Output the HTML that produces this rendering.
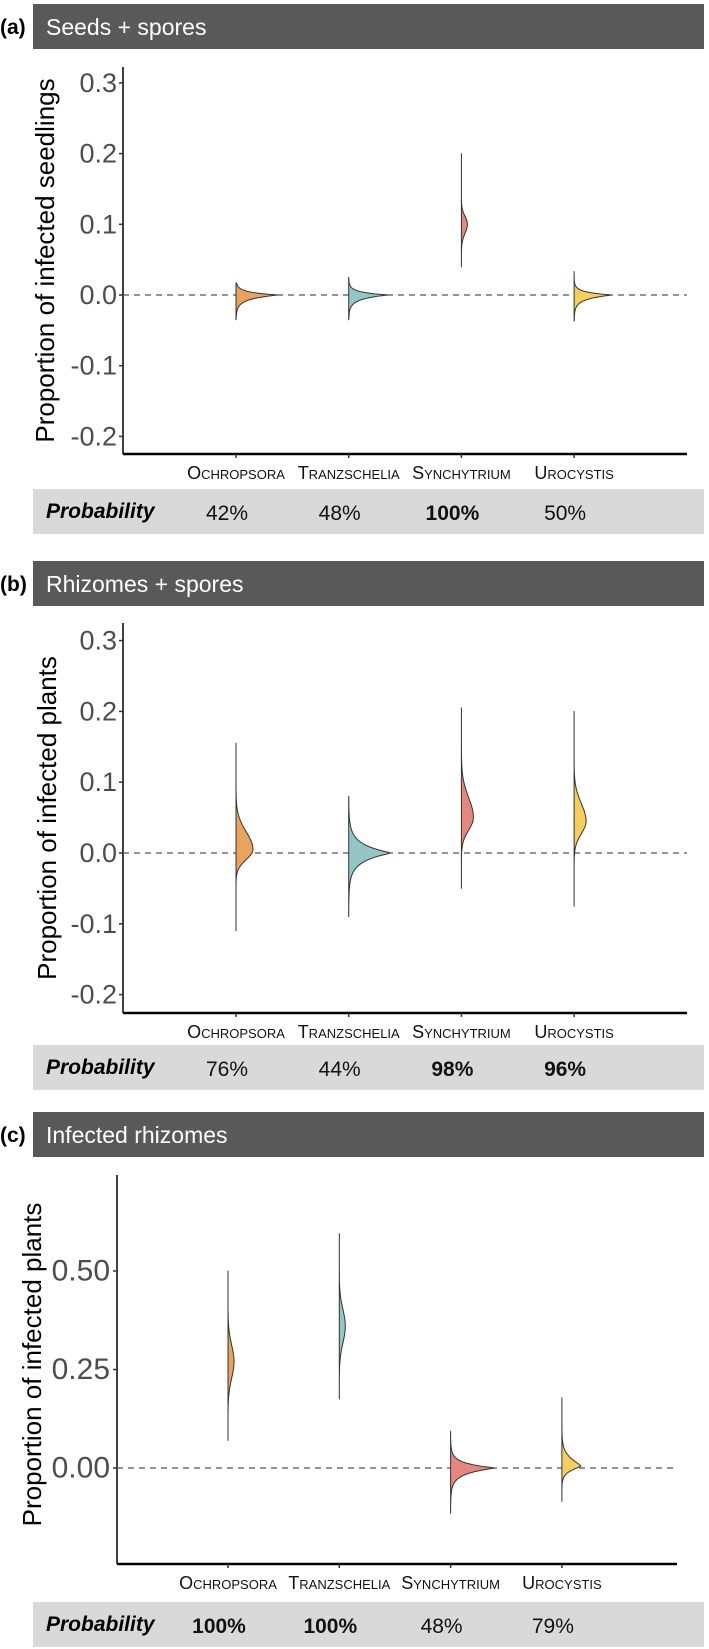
<!DOCTYPE html>
<html><head><meta charset="utf-8">
<style>
html,body{margin:0;padding:0;background:#fff;}
svg{display:block;}
text{font-family:"Liberation Sans",Arial,sans-serif;}
</style></head>
<body>
<svg id="chart" width="709" height="1649" viewBox="0 0 709 1649" xmlns="http://www.w3.org/2000/svg"></svg>
<script>
// ---- data ----
const categories = ["Ochropsora","Tranzschelia","Synchytrium","Urocystis"];
const panelTitles = ["Seeds + spores","Rhizomes + spores","Infected rhizomes"];
const panelLetters = ["(a)","(b)","(c)"];
const yTitles = ["Proportion of infected seedlings","Proportion of infected plants","Proportion of infected plants"];
const tickValsA = [0.3,0.2,0.1,0.0,-0.1,-0.2];
const tickLabelsA = ["0.3","0.2","0.1","0.0","-0.1","-0.2"];
const tickValsB = [0.3,0.2,0.1,0.0,-0.1,-0.2];
const tickLabelsB = ["0.3","0.2","0.1","0.0","-0.1","-0.2"];
const tickValsC = [0.5,0.25,0.0];
const tickLabelsC = ["0.50","0.25","0.00"];
const probA = ["42%","48%","100%","50%"];
const probB = ["76%","44%","98%","96%"];
const probC = ["100%","100%","48%","79%"];
const boldA = [false,false,true,false];
const boldB = [false,false,true,true];
const boldC = [true,true,false,false];
// violin summaries: min, max, mode, spread below, spread above, peak density, shape exponent
const loA = [-0.035,-0.035,0.04,-0.037];
const hiA = [0.017,0.025,0.2,0.033];
const modeA = [0.0,0.0,0.1,0.0];
const sdDownA = [0.006,0.006,0.018,0.006];
const sdUpA = [0.004,0.004,0.016,0.004];
const peakA = [42,39,6,38];
const shapeA = [1,1,2,1];
const loB = [-0.11,-0.09,-0.05,-0.075];
const hiB = [0.155,0.08,0.205,0.2];
const modeB = [0.005,0.0,0.05,0.045];
const sdDownB = [0.02,0.012,0.025,0.025];
const sdUpB = [0.035,0.012,0.04,0.035];
const peakB = [17,43,12,12];
const shapeB = [2,1,2,2];
const loC = [0.07,0.175,-0.115,-0.085];
const hiC = [0.5,0.595,0.093,0.178];
const modeC = [0.27,0.36,0.0,0.005];
const sdDownC = [0.06,0.06,0.015,0.015];
const sdUpC = [0.06,0.06,0.012,0.025];
const peakC = [6,6,45,19];
const shapeC = [2,2,1,1.3];
const colors = ["#E9A35E","#93C6C4","#E3877F","#F6CD5F"];

// ---- layout ----
const NS="http://www.w3.org/2000/svg";
const svg=document.getElementById('chart');
function mk(tag,attrs,parent){const e=document.createElementNS(NS,tag);for(const k in attrs)e.setAttribute(k,attrs[k]);(parent||svg).appendChild(e);return e;}

const panels=[
 {hy:4,by:489,axTop:67,axBot:454,axX:123,axEnd:687,y0v:0.0,y0:295,pxPer:707,cx0:236,dx:112.7,tickFs:27,titleX:45,tickX:117,
  tv:tickValsA,tl:tickLabelsA,prob:probA,bold:boldA,lo:loA,hi:hiA,mode:modeA,sdD:sdDownA,sdU:sdUpA,peak:peakA,shape:shapeA},
 {hy:561,by:1045,axTop:623,axBot:1013,axX:123,axEnd:687,y0v:0.0,y0:853,pxPer:708,cx0:236,dx:112.7,tickFs:27,titleX:47,tickX:117,
  tv:tickValsB,tl:tickLabelsB,prob:probB,bold:boldB,lo:loB,hi:hiB,mode:modeB,sdD:sdDownB,sdU:sdUpB,peak:peakB,shape:shapeB},
 {hy:1112,by:1602,axTop:1175,axBot:1564,axX:117,axEnd:677,y0v:0.0,y0:1468,pxPer:394,cx0:228,dx:111.3,tickFs:30,titleX:32,tickX:110,
  tv:tickValsC,tl:tickLabelsC,prob:probC,bold:boldC,lo:loC,hi:hiC,mode:modeC,sdD:sdDownC,sdU:sdUpC,peak:peakC,shape:shapeC}
];

panels.forEach((p,pi)=>{
  const g=mk('g',{});
  
  
  const yS=v=>p.y0-(v-p.y0v)*p.pxPer;
  const xS=i=>p.cx0+i*p.dx;
  const hb=mk('rect',{x:33,y:p.hy,width:671,height:45,fill:'#595959'},g);
  
  
  const lt=mk('text',{x:0,y:p.hy+30,'font-size':21,'font-weight':'bold',fill:'#000'},g);
  lt.textContent=panelLetters[pi];
  
  
  const ht=mk('text',{x:46,y:p.hy+31,'font-size':23,fill:'#fff'},g);
  ht.textContent=panelTitles[pi];
  
  
  const cy=(p.axTop+p.axBot)/2+ (pi==2?-5:0);
  const yt=mk('text',{x:p.titleX,y:cy,'font-size':26,fill:'#000','text-anchor':'middle','dominant-baseline':'central',transform:`rotate(-90 ${p.titleX} ${cy})`},g);
  yt.textContent=yTitles[pi];
  
  
  const ya=mk('line',{x1:p.axX,y1:p.axTop,x2:p.axX,y2:p.axBot,stroke:'#000','stroke-width':1.5},g);
  
  
  const xa=mk('line',{x1:p.axX,y1:p.axBot,x2:p.axEnd,y2:p.axBot,stroke:'#000','stroke-width':2.5},g);
  
  
  p.tv.forEach((v,i)=>{
    const y=yS(v);
    mk('line',{x1:p.axX-4,y1:y,x2:p.axX,y2:y,stroke:'#333','stroke-width':1.5},g);
    const t=mk('text',{x:p.tickX,y:y,'font-size':p.tickFs,fill:'#4d4d4d','text-anchor':'end','dominant-baseline':'central'},g);
    t.textContent=p.tl[i];
    
    
  });
  const zl=mk('line',{x1:p.axX,y1:yS(0),x2:p.axEnd,y2:yS(0),stroke:'#555','stroke-width':1.2,'stroke-dasharray':'6,5'},g);
  
  
  categories.forEach((c,i)=>{
    const x=xS(i);
    mk('line',{x1:x,y1:p.axBot,x2:x,y2:p.axBot+4,stroke:'#333','stroke-width':1.5},g);
    const lo=p.lo[i],hi=p.hi[i],m=p.mode[i];
    let d=`M${x},${yS(hi)}`;
    const N=120;
    for(let k=0;k<=N;k++){
      const v=hi-(hi-lo)*k/N;
      const s=v>=m?p.sdU[i]:p.sdD[i];
      const w=p.peak[i]*Math.exp(-Math.pow(Math.abs(v-m)/s,p.shape[i]));
      d+=` L${(x+w).toFixed(2)},${yS(v).toFixed(2)}`;
    }
    d+=` L${x},${yS(lo)} Z`;
    const vp=mk('path',{d:d,fill:colors[i],stroke:'#333','stroke-width':1,'stroke-linejoin':'round'},g);
    
    
    const cl=mk('text',{x:x,y:p.axBot+25,'font-size':18,fill:'#111','text-anchor':'middle','font-variant':'small-caps'},g);
    cl.textContent=c;
    
    
  });
  const band=mk('rect',{x:33,y:p.by,width:671,height:45,fill:'#d9d9d9'},g);
  
  
  const pl=mk('text',{x:46,y:p.by+29,'font-size':21,'font-weight':'bold','font-style':'italic',fill:'#000'},g);
  pl.textContent='Probability';
  
  
  p.prob.forEach((v,i)=>{
    const t=mk('text',{x:xS(i)-9,y:p.by+31,'font-size':21,fill:'#111','text-anchor':'middle','font-weight':p.bold[i]?'bold':'normal'},g);
    t.textContent=v;
    
    
  });
});
</script>
</body></html>
